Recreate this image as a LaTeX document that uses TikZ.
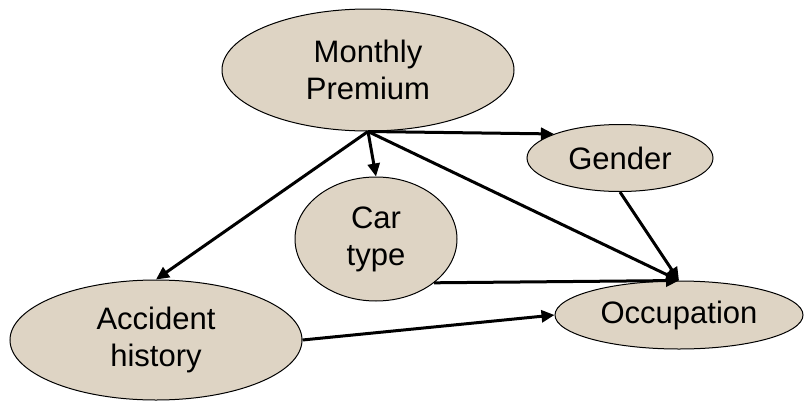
\documentclass[tikz,border=0pt]{standalone}
\usepackage{fontspec}
\setmainfont{Liberation Sans}
\usetikzlibrary{arrows.meta}
\usetikzlibrary{shapes.geometric}

\definecolor{nodetan}{RGB}{222,212,196}

\tikzset{
    var/.style={ellipse,draw=black,line width=1pt,fill=nodetan,inner sep=0pt,
        align=center,font=\fontsize{31}{37}\selectfont},
    edge/.style={line width=3pt,-{Triangle[length=13pt,width=12pt]}}
}

\begin{document}
\begin{tikzpicture}[x=1pt,y=-1pt]
                \useasboundingbox (0,0) rectangle (804,402);

                % variables
                \node[var,minimum width=292pt,minimum height=122pt] (premium) at (368,70) {Monthly\\Premium};
                \node[var,minimum width=186pt,minimum height=67pt] (gender) at (620,158) {Gender};
                \node[var,minimum width=162pt,minimum height=124pt] (car) at (376,239) {Car\\type};
                \node[var,minimum width=292pt,minimum height=120pt] (accident) at (156,340) {Accident\\history};
                \node[var,minimum width=248pt,minimum height=68pt] (occupation) at (679,315) {Occupation};

                % dependencies
                \draw[edge] (premium.south) -- (gender.160);
                \draw[edge] (premium.south) -- (car.north);
                \draw[edge] (premium.south) -- (accident.north);
                \draw[edge] (premium.south) -- (occupation.north);
                \draw[edge] (gender.south) -- (occupation.north);
                \draw[edge] (car.-37) -- (occupation.north);
                \draw[edge] (accident.east) -- (occupation.west);
            \end{tikzpicture}
\end{document}
